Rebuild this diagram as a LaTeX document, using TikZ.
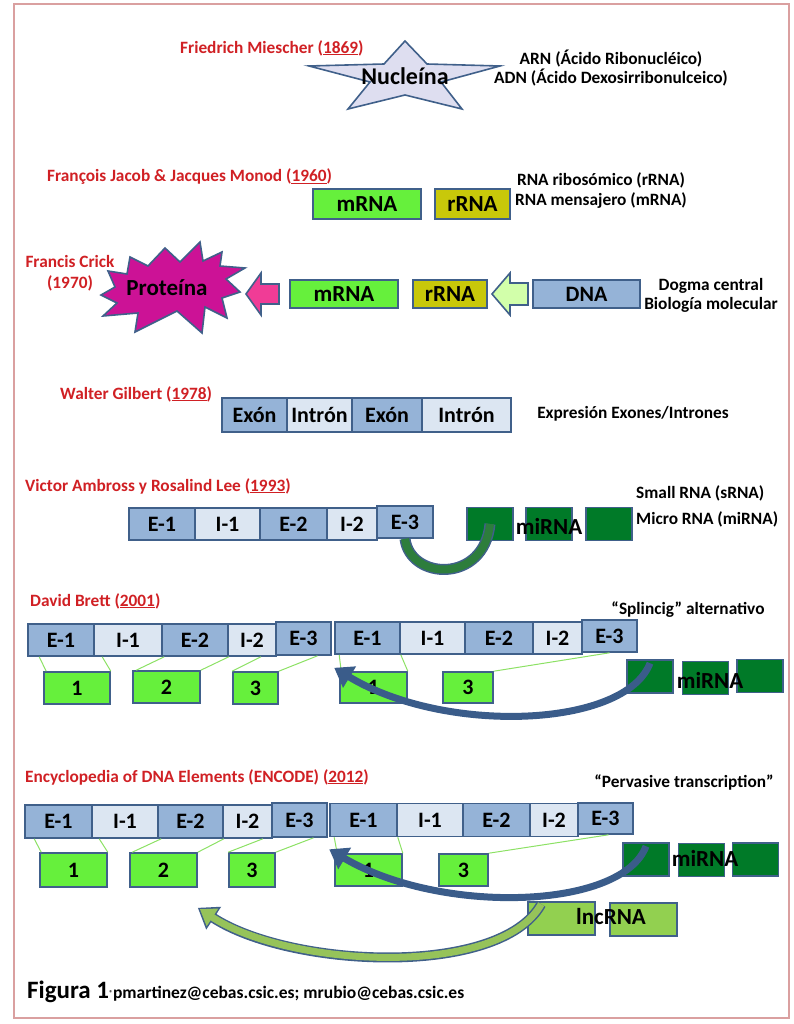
\documentclass[tikz,border=0pt]{standalone}
\usepackage{fontspec}
\setmainfont{Carlito}
\usetikzlibrary{arrows.meta}
\definecolor{redtxt}{RGB}{208,32,36}
\definecolor{edge}{RGB}{64,96,138}
\definecolor{exonfill}{RGB}{149,179,215}
\definecolor{intronfill}{RGB}{220,230,242}
\definecolor{mgreen}{RGB}{102,240,60}
\definecolor{rolive}{RGB}{200,200,10}
\definecolor{dkgreen}{RGB}{0,122,40}
\definecolor{lncgreen}{RGB}{146,208,80}
\definecolor{starfill}{RGB}{222,222,240}
\definecolor{protfill}{RGB}{204,18,150}
\definecolor{pinkarrow}{RGB}{240,60,150}
\definecolor{palegreen}{RGB}{210,255,170}
\definecolor{framepink}{RGB}{218,160,160}
\definecolor{thinline}{RGB}{140,225,100}
\definecolor{bandblue}{RGB}{58,92,138}
\definecolor{bandgreen}{RGB}{45,125,60}
\definecolor{lncband}{RGB}{150,195,90}
\tikzset{
  who/.style={text=redtxt, font=\fontsize{17.3}{21}\selectfont\bfseries, inner sep=0pt},
  note/.style={font=\fontsize{17.3}{19}\selectfont\bfseries, inner sep=0pt, align=center},
  box/.style={draw=edge, line width=1.6pt, inner sep=0pt, minimum height=32pt,
    font=\fontsize{22}{24}\selectfont\bfseries},
  exon/.style={box, fill=exonfill},
  intron/.style={box, fill=intronfill},
  mbox/.style={box, fill=mgreen, font=\fontsize{23}{24}\selectfont\bfseries},
  rbox/.style={box, fill=rolive, font=\fontsize{23}{24}\selectfont\bfseries},
  mirbox/.style={box, fill=dkgreen, minimum width=46pt, minimum height=33pt},
  lncbox/.style={box, fill=lncgreen, minimum width=67pt, minimum height=33pt},
  piece/.style={box, fill=mgreen},
  cut/.style={draw=thinline, line width=1pt},
  big/.style={font=\fontsize{23}{24}\selectfont\bfseries, inner sep=0pt},
}
\begin{document}
\begin{tikzpicture}[x=1pt,y=-1pt]
  \useasboundingbox (0,0) rectangle (793,1024);
  %% frame
  \draw[framepink, line width=2.5pt] (14,4) rectangle (789,1018);

  %% Miescher
  \node[who, anchor=west] (miescher) at (180,48) {Friedrich Miescher (\underline{1869})};
  \draw[draw=edge, fill=starfill, line width=1.6pt] (405,41) -- (427,64) -- (500,66)
    -- (441,82) -- (462,109) -- (405,95) -- (348,109) -- (370,82) -- (309,66)
    -- (384,64) -- cycle;
  \node[big, font=\fontsize{24}{24}\selectfont\bfseries] (nucleina) at (405,76) {Nucleína};
  \node[note] (arn) at (611,68) {ARN (Ácido Ribonucléico)\\ADN (Ácido Dexosirribonulceico)};

  %% Jacob & Monod
  \node[who, anchor=west] (jacob) at (47,177) {François Jacob \& Jacques Monod (\underline{1960})};
  \node[mbox, minimum width=108pt, minimum height=30pt] (mrnaA) at (367,204) {mRNA};
  \node[rbox, minimum width=75pt, minimum height=30pt] (rrnaA) at (472.5,204) {rRNA};
  \node[note, font=\fontsize{17.3}{20}\selectfont\bfseries] (rnanote) at (601,191)
    {RNA ribosómico (rRNA)\\RNA mensajero (mRNA)};

  %% Crick
  \node[who, align=center] (crick) at (70,273) {Francis Crick\\(1970)};
  \draw[draw=edge, fill=protfill, line width=1.6pt] (130,257) -- (148,266) -- (165,248)
    -- (180,262) -- (200,242) -- (203,261) -- (222,252) -- (220,266) -- (245,268)
    -- (226,279) -- (240,292) -- (222,298) -- (227,318) -- (205,307) -- (202,333)
    -- (177,311) -- (135,332) -- (138,313) -- (103,316) -- (117,303) -- (101,295)
    -- (115,287) -- (108,271) -- (127,274) -- cycle;
  \node[big] (proteina) at (167,288) {Proteína};
  \draw[draw=edge, fill=pinkarrow, line width=1.6pt] (246,294) -- (261,273) -- (261,284)
    -- (279,284) -- (279,304) -- (261,304) -- (261,315) -- cycle;
  \node[mbox, minimum width=108pt, minimum height=28pt] (mrnaB) at (344,294) {mRNA};
  \node[rbox, minimum width=74pt, minimum height=28pt] (rrnaB) at (450,294) {rRNA};
  \draw[draw=edge, fill=palegreen, line width=1.6pt] (492,294) -- (510,273) -- (510,283)
    -- (528,283) -- (528,305) -- (510,305) -- (510,315) -- cycle;
  \node[exon, minimum width=107pt, minimum height=28pt] (dna) at (586.5,294) {DNA};
  \node[note] (dogma) at (711,295) {Dogma central\\Biología molecular};

  %% Gilbert
  \node[who, anchor=west] (gilbert) at (60,394) {Walter Gilbert (\underline{1978})};
  \node[exon, minimum width=65pt, minimum height=34pt] (gE1) at (254.5,415) {Exón};
  \node[intron, minimum width=65pt, minimum height=34pt] (gI1) at (319.5,415) {Intrón};
  \node[exon, minimum width=70pt, minimum height=34pt] (gE2) at (387,415) {Exón};
  \node[intron, minimum width=89pt, minimum height=34pt] (gI2) at (466.5,415) {Intrón};
  \node[note] (expr) at (633,414) {Expresión Exones/Intrones};

  %% Ambross & Lee
  \node[who, anchor=west] (ambross) at (25,486) {Victor Ambross y Rosalind Lee (\underline{1993})};
  \node[exon, minimum width=66pt] (vE1) at (162,524) {E-1};
  \node[intron, minimum width=65pt] (vI1) at (227.5,524) {I-1};
  \node[exon, minimum width=67pt] (vE2) at (293.5,524) {E-2};
  \node[intron, minimum width=50pt] (vI2) at (352,524) {I-2};
  \node[exon, minimum width=56pt] (vE3) at (405,522) {E-3};
  \node[mirbox] (vm1) at (490,524) {};
  \node[mirbox] (vm2) at (549,524) {};
  \node[mirbox] (vm3) at (609,524) {};
  \node[big] (mirA) at (549,526) {miRNA};
  \draw[edge, line width=11pt] (vE3.south) .. controls (410,580) and (484,584) .. (vm1.center);
  \draw[bandgreen, line width=8pt] (vE3.south) .. controls (410,580) and (484,584) .. (vm1.center);
  \node[note, anchor=west] (srna) at (636,493) {Small RNA (sRNA)};
  \node[note, anchor=west] (mirna) at (636,519) {Micro RNA (miRNA)};

  %% Brett
  \node[who, anchor=west] (brett) at (30,601) {David Brett (\underline{2001})};
  \node[note] (splice) at (688,610) {“Splincig” alternativo};
  \node[exon, minimum width=66pt] (dE1) at (61,640) {E-1};
  \node[intron, minimum width=68pt] (dI1) at (128,640) {I-1};
  \node[exon, minimum width=66pt] (dE2) at (195,640) {E-2};
  \node[intron, minimum width=48pt] (dI2) at (252,640) {I-2};
  \node[exon, minimum width=55pt, minimum height=33pt] (dE3) at (303.5,638.5) {E-3};
  \node[exon, minimum width=65pt] (dF1) at (367.5,638) {E-1};
  \node[intron, minimum width=65pt] (dJ1) at (432.5,638) {I-1};
  \node[exon, minimum width=68pt] (dF2) at (499,638) {E-2};
  \node[intron, minimum width=49pt] (dJ2) at (557.5,638) {I-2};
  \node[exon, minimum width=55pt] (dF3) at (609.5,636) {E-3};
  \node[piece, minimum width=66pt] (dp1) at (77,688) {1};
  \node[piece, minimum width=67pt] (dp2) at (166.5,687) {2};
  \node[piece, minimum width=45pt] (dp3) at (255.5,688) {3};
  \node[piece, minimum width=67pt, minimum height=31pt] (dq1) at (373.5,687.5) {1};
  \node[piece, minimum width=50pt, minimum height=31pt] (dq3) at (468,687.5) {3};
  \draw[cut] ([xshift=12pt]dE1.south west) -- ([xshift=3pt]dp1.north west);
  \draw[cut] ([xshift=9pt]dI1.south west) -- (dp1.north east);
  \draw[cut] ([xshift=3pt]dE2.south west) -- ([xshift=4pt]dp2.north west);
  \draw[cut] (dE2.south east) -- (dp2.north east);
  \draw[cut] ([xshift=-16pt]dI2.south east) -- (dp3.north west);
  \draw[cut] ([xshift=14pt]dE3.south) -- (dp3.north east);
  \draw[cut] ([xshift=5pt]dF1.south west) -- ([xshift=2pt]dq1.north west);
  \draw[cut] (dF1.south east) -- (dq1.north east);
  \draw[cut] (dF3.south) -- (dq3.north east);
  \node[mirbox] (dm1) at (650,676.5) {};
  \node[mirbox] (dm2) at (705.5,678) {};
  \node[mirbox] (dm3) at (760,676) {};
  \node[big] (mirB) at (710,680) {miRNA};
  \draw[bandblue, line width=7pt, -{Triangle[width=24pt,length=18pt]}]
    ([yshift=-4pt]dm1.north) .. controls (625,728) and (445,735) .. ([yshift=-13pt]dF1.south west);

  %% ENCODE
  \node[who, anchor=west] (encode) at (25,777) {Encyclopedia of DNA Elements (ENCODE) (\underline{2012})};
  \node[note] (pervasive) at (684,782) {“Pervasive transcription”};
  \node[exon, minimum width=67pt, minimum height=33pt] (eE1) at (58.5,821.5) {E-1};
  \node[intron, minimum width=66pt, minimum height=33pt] (eI1) at (125,821.5) {I-1};
  \node[exon, minimum width=65pt, minimum height=33pt] (eE2) at (190.5,821.5) {E-2};
  \node[intron, minimum width=49pt, minimum height=33pt] (eI2) at (247.5,821.5) {I-2};
  \node[exon, minimum width=55pt, minimum height=34pt] (eE3) at (299.5,820) {E-3};
  \node[exon, minimum width=67pt, minimum height=33pt] (eF1) at (363.5,820) {E-1};
  \node[intron, minimum width=66pt, minimum height=33pt] (eJ1) at (430,820) {I-1};
  \node[exon, minimum width=67pt, minimum height=33pt] (eF2) at (496.5,820) {E-2};
  \node[intron, minimum width=48pt, minimum height=33pt] (eJ2) at (554,820) {I-2};
  \node[exon, minimum width=55pt, minimum height=31pt] (eF3) at (605.5,818.5) {E-3};
  \node[piece, minimum width=67pt, minimum height=34pt] (ep1) at (73.5,870) {1};
  \node[piece, minimum width=67pt, minimum height=34pt] (ep2) at (163.5,870) {2};
  \node[piece, minimum width=46pt, minimum height=34pt] (ep3) at (252,870) {3};
  \node[piece, minimum width=67pt] (eq1) at (368.5,870) {1};
  \node[piece, minimum width=49pt] (eq3) at (463.5,870) {3};
  \draw[cut] ([xshift=10pt]eE1.south west) -- ([xshift=2pt]ep1.north west);
  \draw[cut] ([xshift=8pt]eI1.south west) -- (ep1.north east);
  \draw[cut] ([xshift=4pt]eE2.south west) -- ([xshift=3pt]ep2.north west);
  \draw[cut] (eE2.south east) -- (ep2.north east);
  \draw[cut] ([xshift=-10pt]eI2.south east) -- (ep3.north west);
  \draw[cut] ([xshift=14pt]eE3.south) -- (ep3.north east);
  \draw[cut] ([xshift=5pt]eF1.south west) -- ([xshift=3pt]eq1.north west);
  \draw[cut] (eF1.south east) -- (eq1.north east);
  \draw[cut] ([xshift=3pt]eF3.south) -- (eq3.north east);
  \node[mirbox] (em1) at (646,859.5) {};
  \node[mirbox] (em2) at (701.5,860) {};
  \node[mirbox] (em3) at (755.5,859.5) {};
  \node[big] (mirC) at (705,858) {miRNA};
  \node[lncbox] (lnc1) at (561.5,918.5) {};
  \node[lncbox] (lnc2) at (643.5,919.5) {};
  \node[big] (lncrna) at (611,917) {lncRNA};
  \draw[bandblue, line width=7pt, -{Triangle[width=24pt,length=18pt]}]
    ([yshift=-4pt]em1.north) .. controls (622,910) and (440,915) .. ([yshift=-12pt]eF1.south west);
  \draw[edge, line width=10pt, -{Triangle[width=26pt,length=19pt]}]
    ([xshift=14pt,yshift=-3pt]lnc1.north west) .. controls (500,978) and (290,968) .. ([yshift=-20pt]ep2.south east);
  \draw[lncband, line width=7pt, -{Triangle[width=20pt,length=15pt]}, shorten >=2.5pt]
    ([xshift=14pt,yshift=-3pt]lnc1.north west) .. controls (500,978) and (290,968) .. ([yshift=-20pt]ep2.south east);

  %% caption
  \node[anchor=base west, inner sep=0pt, font=\fontsize{25}{26}\selectfont\bfseries] (figura) at (27,998) {Figura 1};
  \node[anchor=base west, inner sep=0pt, font=\fontsize{17.5}{18}\selectfont\bfseries] (mail) at (figura.base east)
    {\raisebox{3pt}{\fontsize{7}{7}\selectfont ®}pmartinez@cebas.csic.es; mrubio@cebas.csic.es};
\end{tikzpicture}
\end{document}
